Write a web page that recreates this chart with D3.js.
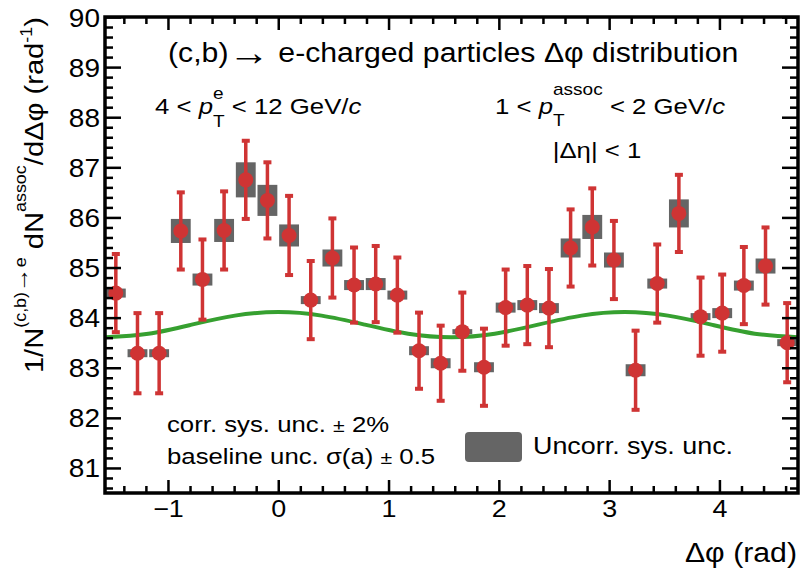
<!DOCTYPE html>
<html>
<head>
<meta charset="utf-8">
<script src="https://cdn.jsdelivr.net/npm/d3@7"></script>
<style>
  body { margin: 0; background: #fff; }
  svg text { font-family: "Liberation Sans", Arial, Helvetica, sans-serif; fill: #000; white-space: pre; }
</style>
</head>
<body>
<svg id="chart"></svg>
<script>
// bin centres in Δφ (rad), 32 bins on [-π/2, 3π/2]
const dphi = [-1.4726, -1.2763, -1.0799, -0.8836, -0.6872, -0.4909, -0.2945, -0.0982,
  0.0982, 0.2945, 0.4909, 0.6872, 0.8836, 1.0799, 1.2763, 1.4726,
  1.6690, 1.8653, 2.0617, 2.2580, 2.4544, 2.6507, 2.8471, 3.0434,
  3.2398, 3.4361, 3.6325, 3.8288, 4.0252, 4.2215, 4.4179, 4.6142];

const yields = [84.49, 83.29, 83.29, 85.73, 84.76, 85.74, 86.75, 86.34,
  85.64, 84.35, 85.19, 84.65, 84.67, 84.45, 83.34, 83.09,
  83.72, 83.01, 84.20, 84.25, 84.19, 85.39, 85.81, 85.15,
  82.95, 84.68, 86.08, 84.02, 84.09, 84.64, 85.03, 83.50];

const statErr = [0.78, 0.80, 0.80, 0.77, 0.80, 0.78, 0.78, 0.76,
  0.79, 0.78, 0.79, 0.75, 0.76, 0.75, 0.76, 0.75,
  0.78, 0.77, 0.76, 0.78, 0.78, 0.77, 0.77, 0.78,
  0.79, 0.78, 0.77, 0.78, 0.77, 0.77, 0.77, 0.79];

const sysErr = [0.09, 0.08, 0.08, 0.24, 0.12, 0.23, 0.35, 0.31,
  0.22, 0.08, 0.17, 0.10, 0.12, 0.09, 0.09, 0.10,
  0.05, 0.10, 0.10, 0.10, 0.10, 0.19, 0.24, 0.15,
  0.12, 0.10, 0.28, 0.07, 0.10, 0.10, 0.15, 0.07];

// baseline (green curve), sampled
const baseDphi = [-1.571, -1.178, -0.785, -0.393, 0.0, 0.393, 0.785, 1.178, 1.571,
  1.963, 2.356, 2.749, 3.142, 3.534, 3.927, 4.320, 4.712];
const baseVal = [83.61, 83.68, 83.86, 84.04, 84.11, 84.04, 83.86, 83.68, 83.61,
  83.68, 83.86, 84.04, 84.11, 84.04, 83.86, 83.68, 83.61];

const xTicks = [-1, 0, 1, 2, 3, 4];
const yTicks = [81, 82, 83, 84, 85, 86, 87, 88, 89, 90];

const W = 801, H = 570;
const SX = 1.12;          // text is drawn a bit wide, like the ROOT output
const RED = '#cf3434', GREY = '#656565', GREEN = '#36a030';
const SERIF = '"Liberation Serif", "DejaVu Serif", serif';
const ARROWF = '"DejaVu Sans", sans-serif';

const svg = d3.select('#chart').attr('width', W).attr('height', H);

const x = d3.scaleLinear().domain([-Math.PI / 2, 3 * Math.PI / 2]).range([105, 798]);
const y = d3.scaleLinear().domain([80.5, 90]).range([493, 17]);

// minor ticks every 0.2
const xMinor = d3.range(-7, 24).map(i => i / 5).filter(v => !Number.isInteger(v));
const yMinor = d3.range(403, 450).map(i => i / 5).filter(v => !Number.isInteger(v));

svg.append('clipPath').attr('id', 'frame')
  .append('rect')
  .attr('x', x.range()[0]).attr('y', y.range()[1])
  .attr('width', x.range()[1] - x.range()[0])
  .attr('height', y.range()[0] - y.range()[1]);

// rich text: runs of plain / sup / sub pieces laid out left to right
function rich(parent, parts, o) {
  const g = parent.append('g');
  const inner = g.append('g');
  let cx = 0;
  const put = (p) => {
    const t = inner.append('text')
      .attr('x', cx).attr('y', p.dy || 0)
      .attr('font-size', p.size)
      .attr('font-style', p.italic ? 'italic' : null)
      .attr('font-family', p.font || null)
      .text(p.t);
    return t.node().getComputedTextLength();
  };
  parts.forEach(p => {
    if (p.stack) {
      cx += d3.max(p.stack.map(put));
    } else {
      cx += put(p);
    }
  });
  const off = o.anchor === 'end' ? -cx : o.anchor === 'middle' ? -cx / 2 : 0;
  inner.attr('transform', `translate(${off},0)`);
  g.attr('transform', `translate(${o.x},${o.y}) rotate(${o.rotate || 0}) scale(${SX},1)`);
  return g;
}

// systematic boxes
const bw = 0.18;
svg.append('g').attr('clip-path', 'url(#frame)')
  .selectAll('rect')
  .data(dphi)
  .join('rect')
  .attr('x', d => x(d - bw / 2))
  .attr('width', d => x(d + bw / 2) - x(d - bw / 2))
  .attr('y', (d, i) => y(yields[i] + sysErr[i]))
  .attr('height', (d, i) => y(yields[i] - sysErr[i]) - y(yields[i] + sysErr[i]))
  .attr('fill', GREY);

// baseline curve
svg.append('path')
  .datum(baseDphi.map((d, i) => [d, baseVal[i]]))
  .attr('fill', 'none')
  .attr('stroke', GREEN)
  .attr('stroke-width', 4)
  .attr('d', d3.line().x(d => x(d[0])).y(d => y(d[1])).curve(d3.curveNatural));

// stat error bars + markers
const pts = svg.append('g');
pts.selectAll('line')
  .data(dphi)
  .join('line')
  .attr('x1', d => x(d)).attr('x2', d => x(d))
  .attr('y1', (d, i) => y(yields[i] - statErr[i]))
  .attr('y2', (d, i) => y(yields[i] + statErr[i]))
  .attr('stroke', RED).attr('stroke-width', 3.5);

const caps = [];
dphi.forEach((d, i) => {
  caps.push([d, yields[i] + statErr[i]]);
  caps.push([d, yields[i] - statErr[i]]);
});
pts.selectAll('rect.cap')
  .data(caps)
  .join('rect')
  .attr('class', 'cap')
  .attr('x', d => x(d[0]) - 4).attr('y', d => y(d[1]) - 2)
  .attr('width', 8).attr('height', 4)
  .attr('fill', RED);

pts.selectAll('circle')
  .data(dphi)
  .join('circle')
  .attr('cx', d => x(d))
  .attr('cy', (d, i) => y(yields[i]))
  .attr('r', 7.5)
  .attr('fill', RED);

// axes, ticks pointing inward on all four sides
function styleTicks(g) {
  g.select('.domain').remove();
  g.selectAll('.tick line').attr('stroke', '#000').attr('stroke-width', 2.5);
}

const left = svg.append('g').attr('transform', `translate(${x.range()[0]},0)`)
  .call(d3.axisLeft(y).tickValues(yTicks).tickSize(-16).tickPadding(4.5).tickFormat(d3.format('d')))
  .call(styleTicks)
  .attr('font-size', 25).attr('font-family', null);
left.selectAll('text').attr('transform', `scale(${SX},1)`).attr('dy', '0.36em');
svg.append('g').attr('transform', `translate(${x.range()[0]},0)`)
  .call(d3.axisLeft(y).tickValues(yMinor).tickSize(-8).tickFormat(''))
  .call(styleTicks);

svg.append('g').attr('transform', `translate(${x.range()[1]},0)`)
  .call(d3.axisRight(y).tickValues(yTicks).tickSize(-16).tickFormat(''))
  .call(styleTicks);
svg.append('g').attr('transform', `translate(${x.range()[1]},0)`)
  .call(d3.axisRight(y).tickValues(yMinor).tickSize(-8).tickFormat(''))
  .call(styleTicks);

const bottom = svg.append('g').attr('transform', `translate(0,${y.range()[0]})`)
  .call(d3.axisBottom(x).tickValues(xTicks).tickSize(-13).tickPadding(7).tickFormat(d => d < 0 ? '\u2212' + (-d) : String(d)))
  .call(styleTicks)
  .attr('font-size', 24).attr('font-family', null);
bottom.selectAll('text').attr('transform', `scale(${SX},1)`);
svg.append('g').attr('transform', `translate(0,${y.range()[0]})`)
  .call(d3.axisBottom(x).tickValues(xMinor).tickSize(-7).tickFormat(''))
  .call(styleTicks);

svg.append('g').attr('transform', `translate(0,${y.range()[1]})`)
  .call(d3.axisTop(x).tickValues(xTicks).tickSize(-13).tickFormat(''))
  .call(styleTicks);
svg.append('g').attr('transform', `translate(0,${y.range()[1]})`)
  .call(d3.axisTop(x).tickValues(xMinor).tickSize(-7).tickFormat(''))
  .call(styleTicks);

// frame
svg.append('rect')
  .attr('x', x.range()[0]).attr('y', y.range()[1])
  .attr('width', x.range()[1] - x.range()[0])
  .attr('height', y.range()[0] - y.range()[1])
  .attr('fill', 'none').attr('stroke', '#000').attr('stroke-width', 3.5);

// axis titles
rich(svg, [{ t: 'Δφ', size: 27, font: SERIF }, { t: ' (rad)', size: 27 }],
  { x: 797, y: 562, anchor: 'end' });

rich(svg, [
  { t: '1/N', size: 26 },
  { t: '(c,b)', size: 16, dy: -17 },
  { t: '→', size: 22, dy: -15, font: ARROWF },
  { t: 'e', size: 16, dy: -17 },
  { t: ' dN', size: 26 },
  { t: 'assoc', size: 16, dy: -17 },
  { t: '/d', size: 26 },
  { t: 'Δφ', size: 26, font: SERIF },
  { t: ' (rad', size: 26 },
  { t: '-1', size: 16, dy: -11 },
  { t: ')', size: 26 }
], { x: 43, y: 17, rotate: -90, anchor: 'end' });

// annotations
rich(svg, [
  { t: '(c,b)', size: 27 },
  { t: '→', size: 37, dy: 3, font: ARROWF },
  { t: ' e-charged particles ', size: 27 },
  { t: 'Δφ', size: 27, font: SERIF },
  { t: ' distribution', size: 27 }
], { x: 168, y: 62 });

rich(svg, [
  { t: '4 < ', size: 23 },
  { t: 'p', size: 23, italic: true },
  { stack: [{ t: 'e', size: 17, dy: -15 }, { t: 'T', size: 17, dy: 13 }] },
  { t: ' < 12 GeV/', size: 23 },
  { t: 'c', size: 23, italic: true }
], { x: 155, y: 114 });

rich(svg, [
  { t: '1 < ', size: 23 },
  { t: 'p', size: 23, italic: true },
  { stack: [{ t: 'assoc', size: 17, dy: -19 }, { t: 'T', size: 17, dy: 12 }] },
  { t: ' < 2 GeV/', size: 23 },
  { t: 'c', size: 23, italic: true }
], { x: 495, y: 114 });

rich(svg, [
  { t: '|', size: 23 },
  { t: 'Δη', size: 23, font: SERIF },
  { t: '| < 1', size: 23 }
], { x: 597, y: 158, anchor: 'middle' });

rich(svg, [{ t: 'corr. sys. unc. ', size: 23 }, { t: '±', size: 19 }, { t: ' 2%', size: 23 }],
  { x: 167, y: 432 });
rich(svg, [
  { t: 'baseline unc. ', size: 23 },
  { t: 'σ', size: 23, font: SERIF },
  { t: '(a) ', size: 23 },
  { t: '±', size: 19 },
  { t: ' 0.5', size: 23 }
], { x: 167, y: 464 });

// legend
svg.append('rect')
  .attr('x', 465).attr('y', 432).attr('width', 57).attr('height', 30)
  .attr('rx', 4).attr('fill', GREY);
rich(svg, [{ t: 'Uncorr. sys. unc.', size: 24 }], { x: 533, y: 454 });
</script>
</body>
</html>
